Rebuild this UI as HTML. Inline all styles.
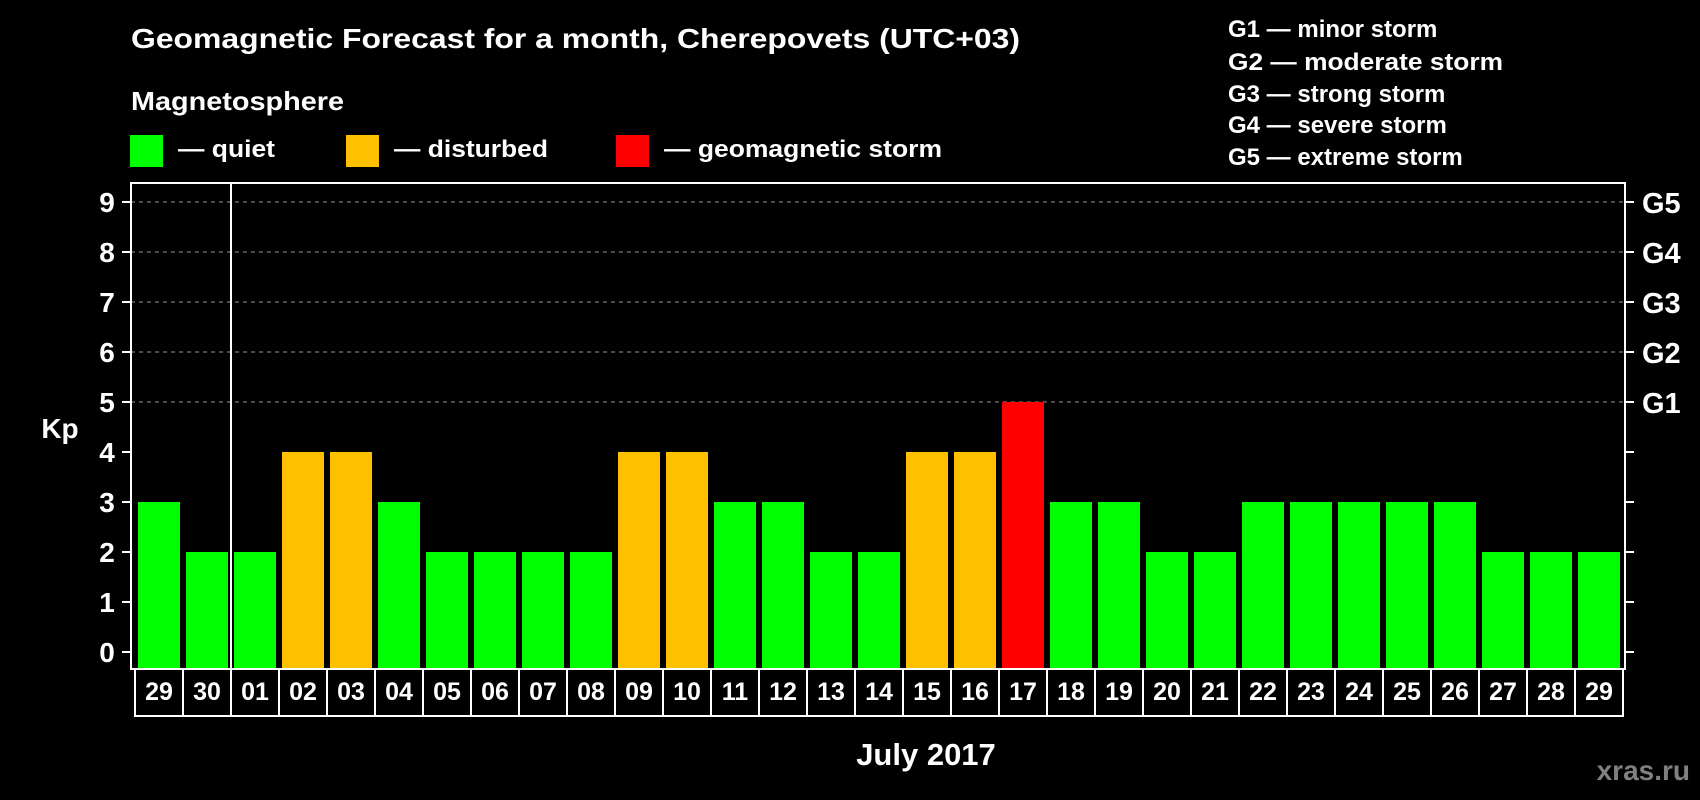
<!DOCTYPE html>
<html><head><meta charset="utf-8"><style>
html,body{margin:0;padding:0;background:#000;}
svg{display:block;font-family:"Liberation Sans",sans-serif;font-weight:bold;}
</style></head><body>
<svg width="1700" height="800" viewBox="0 0 1700 800">
<rect x="0" y="0" width="1700" height="800" fill="#000"/>
<text x="131" y="48" font-size="28" fill="#fff" textLength="889" lengthAdjust="spacingAndGlyphs">Geomagnetic Forecast for a month, Cherepovets (UTC+03)</text>
<text x="131" y="110" font-size="26" fill="#fff" textLength="213" lengthAdjust="spacingAndGlyphs">Magnetosphere</text>
<g>
<rect x="130" y="135" width="33" height="32" fill="#00ff00"/>
<text x="178" y="157" font-size="24" fill="#fff" textLength="97" lengthAdjust="spacingAndGlyphs">— quiet</text>
</g>
<g>
<rect x="346" y="135" width="33" height="32" fill="#ffc000"/>
<text x="394" y="157" font-size="24" fill="#fff" textLength="154" lengthAdjust="spacingAndGlyphs">— disturbed</text>
</g>
<g>
<rect x="616" y="135" width="33" height="32" fill="#ff0000"/>
<text x="664" y="157" font-size="24" fill="#fff" textLength="278" lengthAdjust="spacingAndGlyphs">— geomagnetic storm</text>
</g>
<g font-size="24" fill="#fff">
<text x="1228" y="37">G1 — minor storm</text>
<text x="1228" y="70" textLength="275" lengthAdjust="spacingAndGlyphs">G2 — moderate storm</text>
<text x="1228" y="102">G3 — strong storm</text>
<text x="1228" y="133">G4 — severe storm</text>
<text x="1228" y="165">G5 — extreme storm</text>
</g>
<g id="plot"></g>
<text x="60" y="438" font-size="28" fill="#fff" text-anchor="middle">Kp</text>
<text x="926" y="765" font-size="31" fill="#fff" text-anchor="middle">July 2017</text>
<text x="1690" y="780" font-size="28" fill="#808080" text-anchor="end">xras.ru</text>
</svg>
<script>
const days = ["29","30","01","02","03","04","05","06","07","08","09","10","11","12","13","14","15","16","17","18","19","20","21","22","23","24","25","26","27","28","29"];
const kpValues = [3,2,2,4,4,3,2,2,2,2,4,4,3,3,2,2,4,4,5,3,3,2,2,3,3,3,3,3,2,2,2];
const yTicks = [0,1,2,3,4,5,6,7,8,9];
const gLabels = ["G1","G2","G3","G4","G5"];
const gLevels = [5,6,7,8,9];

const NS = "http://www.w3.org/2000/svg";
const plot = document.getElementById("plot");
const boxL = 131, boxR = 1625, boxT = 183, boxB = 669;
const y = v => 652 - 50 * v;
const x = i => 135 + 48 * i;
function mk(tag, attrs) { const e = document.createElementNS(NS, tag); for (const k in attrs) e.setAttribute(k, attrs[k]); plot.appendChild(e); return e; }
function color(v) { return v >= 5 ? "#ff0000" : (v >= 4 ? "#ffc000" : "#00ff00"); }

gLevels.forEach((lv, i) => {
  const g = mk("line", {x1: boxL, x2: boxR, y1: y(lv), y2: y(lv), stroke: "#999", "stroke-width": 1, "stroke-dasharray": "4,4"});
  
  
  const t = mk("text", {x: 1642, y: y(lv) + 11, "font-size": 29, fill: "#fff"});
  t.textContent = gLabels[i];
  
  
});

kpValues.forEach((v, i) => {
  const r = mk("rect", {x: x(i) + 3, y: y(v), width: 42, height: boxB - y(v), fill: color(v)});
  
  
});

yTicks.forEach(v => {
  const tl = mk("line", {x1: 122, x2: boxL, y1: y(v), y2: y(v), stroke: "#fff", "stroke-width": 2});
  
  
  const tr = mk("line", {x1: boxR, x2: 1634, y1: y(v), y2: y(v), stroke: "#fff", "stroke-width": 2});
  
  
  const t = mk("text", {x: 107, y: y(v) + 10, "font-size": 28, fill: "#fff", "text-anchor": "middle"});
  t.textContent = v;
  
  
});

const box = mk("rect", {x: boxL, y: boxT, width: boxR - boxL, height: boxB - boxT, fill: "none", stroke: "#fff", "stroke-width": 2});


const sep = mk("line", {x1: 231, x2: 231, y1: boxT, y2: boxB, stroke: "#fff", "stroke-width": 2});



days.forEach((d, i) => {
  const c = mk("rect", {x: x(i), y: 669, width: 48, height: 47, fill: "none", stroke: "#fff", "stroke-width": 2});
  
  
  const t = mk("text", {x: x(i) + 24, y: 700, "font-size": 25, fill: "#fff", "text-anchor": "middle"});
  t.textContent = d;
  
  
});
</script>
</body></html>
